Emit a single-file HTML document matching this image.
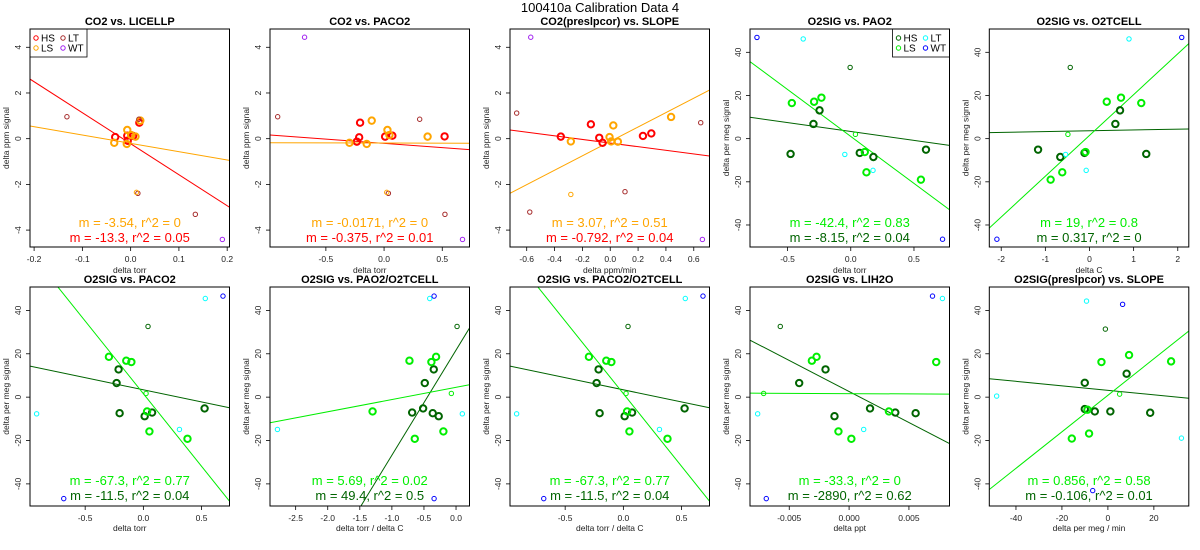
<!DOCTYPE html>
<html><head><meta charset="utf-8">
<style>
html,body{margin:0;padding:0;background:#fff;width:1200px;height:550px;overflow:hidden;}
svg{display:block;font-family:"Liberation Sans",Arial,sans-serif;}
</style></head>
<body>
<svg id="chart" width="1200" height="550" viewBox="0 0 1200 550" xmlns="http://www.w3.org/2000/svg">
<text x="600" y="12" text-anchor="middle" font-size="13">100410a   Calibration Data 4</text>
</svg>
<script>
// ---- data ----
const titles = ["CO2 vs. LICELLP","CO2 vs. PACO2","CO2(preslpcor) vs. SLOPE","O2SIG vs. PAO2","O2SIG vs. O2TCELL",
  "O2SIG vs. PACO2","O2SIG vs. PAO2/O2TCELL","O2SIG vs. PACO2/O2TCELL","O2SIG vs. LIH2O","O2SIG(preslpcor) vs. SLOPE"];
const xLabels = ["delta torr","delta torr","delta ppm/min","delta torr","delta C",
  "delta torr","delta torr / delta C","delta torr / delta C","delta ppt","delta per meg / min"];
const xLims = [[-0.2085,0.2048],[-0.98,0.734],[-0.72,0.713],[-0.797,0.781],[-2.27,2.25],
  [-0.974,0.74],[-2.90,0.21],[-0.974,0.74],[-0.00828,0.00839],[-51.6,35.2]];
const xTicks = [[-0.2,-0.1,0,0.1,0.2],[-0.5,0,0.5],[-0.6,-0.4,-0.2,0,0.2,0.4,0.6],[-0.5,0,0.5],[-2,-1,0,1,2],
  [-0.5,0,0.5],[-2.5,-2,-1.5,-1,-0.5,0],[-0.5,0,0.5],[-0.005,0,0.005],[-40,-20,0,20]];
const xTickLabels = [["-0.2","-0.1","0.0","0.1","0.2"],["-0.5","0.0","0.5"],["-0.6","-0.4","-0.2","0.0","0.2","0.4","0.6"],["-0.5","0.0","0.5"],["-2","-1","0","1","2"],
  ["-0.5","0.0","0.5"],["-2.5","-2.0","-1.5","-1.0","-0.5","0.0"],["-0.5","0.0","0.5"],["-0.005","0.000","0.005"],["-40","-20","0","20"]];
const co2YLim = [-4.74,4.8];
const o2YLim = [-50.2,50.8];
const co2YTicks = [-4,-2,0,2,4];
const o2YTicks = [-40,-20,0,20,40];

const p1Points = [[-0.032,0.07,'HS'],[-0.007,0.13,'HS'],[-0.006,-0.09,'HS'],[0.018,0.7,'HS'],[0.005,0.12,'HS'],
  [-0.034,-0.18,'LS'],[-0.007,0.38,'LS'],[-0.008,-0.23,'LS'],[0.001,0.16,'LS'],[0.01,0.09,'LS'],[0.02,0.79,'LS'],
  [-0.132,0.96,'LT'],[0.017,0.85,'LT'],[0.015,-2.39,'LT'],[0.134,-3.31,'LT'],[0.012,-2.35,'LSx'],[0.19,-4.41,'WT']];
const p2Points = [[-0.206,0.70,'HS'],[-0.214,0.06,'HS'],[-0.234,-0.13,'HS'],[0.009,0.09,'HS'],[0.071,0.13,'HS'],[0.52,0.10,'HS'],
  [-0.297,-0.18,'LS'],[-0.149,-0.23,'LS'],[-0.106,0.79,'LS'],[0.029,0.38,'LS'],[0.046,0.16,'LS'],[0.374,0.09,'LS'],
  [-0.914,0.96,'LT'],[0.306,0.85,'LT'],[0.037,-2.39,'LT'],[0.523,-3.31,'LT'],[0.023,-2.35,'LSx'],[-0.683,4.44,'WT'],[0.674,-4.41,'WT']];
const p3Points = [[-0.355,0.09,'HS'],[-0.139,0.63,'HS'],[-0.079,0.04,'HS'],[-0.055,-0.18,'HS'],[0.235,0.12,'HS'],[0.295,0.23,'HS'],
  [-0.283,-0.12,'LS'],[-0.005,0.07,'LS'],[0.007,-0.12,'LS'],[0.022,0.58,'LS'],[0.055,-0.13,'LS'],[0.437,0.95,'LS'],
  [-0.672,1.12,'LT'],[-0.578,-3.21,'LT'],[0.106,-2.32,'LT'],[0.65,0.70,'LT'],[-0.283,-2.44,'LSx'],[-0.571,4.44,'WT'],[0.662,-4.41,'WT']];
const p4Points = [[-0.476,-7.1,'HS'],[-0.295,6.8,'HS'],[-0.247,13.1,'HS'],[0.071,-6.6,'HS'],[0.179,-8.5,'HS'],[0.595,-5.1,'HS'],
  [-0.466,16.5,'LS'],[-0.29,17.1,'LS'],[-0.232,19.0,'LS'],[0.111,-6.2,'LS'],[0.124,-15.6,'LS'],[0.555,-19.0,'LS'],
  [-0.376,46.2,'LT'],[-0.047,-7.3,'LT'],[0.176,-14.7,'LT'],[-0.005,33.0,'HSx'],[0.037,2.0,'LSx'],[-0.742,46.9,'WT'],[0.726,-46.6,'WT']];
const p5Points = [[-1.165,-5.1,'HS'],[-0.662,-8.5,'HS'],[-0.113,-6.6,'HS'],[0.586,6.8,'HS'],[0.692,13.1,'HS'],[1.286,-7.1,'HS'],
  [-0.88,-19.0,'LS'],[-0.617,-15.6,'LS'],[-0.09,-6.2,'LS'],[0.391,17.1,'LS'],[0.714,19.0,'LS'],[1.173,16.5,'LS'],
  [0.895,46.2,'LT'],[-0.541,-7.3,'LT'],[-0.075,-14.7,'LT'],[-0.436,33.0,'HSx'],[-0.489,2.0,'LSx'],[-2.098,-46.6,'WT'],[2.09,46.9,'WT']];
const p6Points = [[-0.213,12.8,'HS'],[-0.23,6.5,'HS'],[-0.204,-7.4,'HS'],[0.011,-8.8,'HS'],[0.075,-7.1,'HS'],[0.526,-5.2,'HS'],
  [-0.296,18.6,'LS'],[-0.147,16.8,'LS'],[-0.103,16.2,'LS'],[0.032,-6.6,'LS'],[0.052,-15.8,'LS'],[0.379,-19.2,'LS'],
  [-0.917,-7.7,'LT'],[0.31,-14.9,'LT'],[0.532,45.5,'LT'],[0.04,32.6,'HSx'],[0.023,1.7,'LSx'],[0.684,46.6,'WT'],[-0.684,-46.8,'WT']];
const p7Points = [[-0.487,6.5,'HS'],[-0.347,12.8,'HS'],[-0.363,-7.4,'HS'],[-0.27,-8.8,'HS'],[-0.684,-7.1,'HS'],[-0.513,-5.2,'HS'],
  [-0.311,18.6,'LS'],[-0.726,16.8,'LS'],[-0.384,16.2,'LS'],[-1.301,-6.6,'LS'],[-0.197,-15.8,'LS'],[-0.643,-19.2,'LS'],
  [-2.784,-14.9,'LT'],[0.098,-7.7,'LT'],[-0.41,45.5,'LT'],[0.016,32.6,'HSx'],[-0.073,1.7,'LSx'],[-0.342,46.6,'WT'],[-0.342,-46.8,'WT']];
const p8Points = p6Points;
const p9Points = [[-0.00417,6.5,'HS'],[-0.00197,12.8,'HS'],[-0.00122,-8.8,'HS'],[0.00175,-5.2,'HS'],[0.00386,-7.1,'HS'],[0.00556,-7.4,'HS'],
  [-0.00311,16.8,'LS'],[-0.00272,18.6,'LS'],[-0.00089,-15.8,'LS'],[0.00019,-19.2,'LS'],[0.00333,-6.6,'LS'],[0.00728,16.2,'LS'],
  [-0.00764,-7.7,'LT'],[0.00122,-14.9,'LT'],[0.0078,45.5,'LT'],[-0.00575,32.6,'HSx'],[-0.00714,1.7,'LSx'],[0.00697,46.6,'WT'],[-0.00692,-46.8,'WT']];
const p10Points = [[-10.06,6.6,'HS'],[-10.06,-5.5,'HS'],[-5.7,-6.6,'HS'],[1.07,-6.6,'HS'],[8.15,10.8,'HS'],[18.4,-7.2,'HS'],
  [-15.7,-19.1,'LS'],[-8.2,-16.8,'LS'],[-8.9,-5.8,'LS'],[-2.8,16.2,'LS'],[9.2,19.4,'LS'],[27.5,16.5,'LS'],
  [-48.4,0.5,'LT'],[-9.3,44.3,'LT'],[32.0,-18.9,'LT'],[-1.1,31.4,'HSx'],[5.1,1.4,'LSx'],[6.4,42.8,'WT'],[-6.6,-43.1,'WT']];
const allPoints = [p1Points,p2Points,p3Points,p4Points,p5Points,p6Points,p7Points,p8Points,p9Points,p10Points];

// fit lines [slope, intercept] per panel
const hsFits = [[-13.56,-0.22],[-0.373,-0.206],[-0.795,-0.192],[-8.24,3.33],[0.376,3.65],
  [-11.2,3.39],[48.5,21.7],[-11.2,3.39],[-2862,2.59],[-0.1037,3.15]];
const lsFits = [[-3.64,-0.204],[-0.015,-0.19],[3.154,-0.12],[-43.5,1.03],[18.9,1.5],
  [-67,1.6],[5.63,4.52],[-67,1.6],[-27,1.63],[0.842,0.85]];
const lsLabels = ["m = -3.54, r^2 = 0","m = -0.0171, r^2 = 0","m = 3.07, r^2 = 0.51","m = -42.4, r^2 = 0.83","m = 19, r^2 = 0.8",
  "m = -67.3, r^2 = 0.77","m = 5.69, r^2 = 0.02","m = -67.3, r^2 = 0.77","m = -33.3, r^2 = 0","m = 0.856, r^2 = 0.58"];
const hsLabels = ["m = -13.3, r^2 = 0.05","m = -0.375, r^2 = 0.01","m = -0.792, r^2 = 0.04","m = -8.15, r^2 = 0.04","m = 0.317, r^2 = 0",
  "m = -11.5, r^2 = 0.04","m = 49.4, r^2 = 0.5","m = -11.5, r^2 = 0.04","m = -2890, r^2 = 0.62","m = -0.106, r^2 = 0.01"];

// ---- rendering ----
const NS = "http://www.w3.org/2000/svg";
const svg = document.getElementById('chart');
const co2Colors = {HS:'#ff0000',LS:'#ffa500',LT:'#a52a2a',WT:'#a020f0'};
const o2Colors = {HS:'#006400',LS:'#00ee00',LT:'#00ffff',WT:'#0000ff'};
function mk(tag, attrs, parent){const e=document.createElementNS(NS,tag);for(const k in attrs)e.setAttribute(k,attrs[k]);(parent||svg).appendChild(e);return e;}

for(let i=0;i<10;i++){
  const col=i%5,row=Math.floor(i/5);
  const L=30+240*col-(col===4?0.7:0), R=L+199.5, T=row?287:29, B=row?506:247;
  const isCO2 = i<3;
  const cols = isCO2?co2Colors:o2Colors;
  const yl = isCO2?co2YLim:o2YLim, yt = isCO2?co2YTicks:o2YTicks;
  const xl = xLims[i];
  const sx = v => L+(v-xl[0])/(xl[1]-xl[0])*(R-L);
  const sy = v => B-(v-yl[0])/(yl[1]-yl[0])*(B-T);
  const g = mk('g',{});
  
  
  const clipId='clip'+i;
  const cp=mk('clipPath',{id:clipId},g); mk('rect',{x:L,y:T,width:R-L,height:B-T},cp);
  const t=mk('text',{x:(L+R)/2,y:T-4,'text-anchor':'middle','font-size':'11','font-weight':'bold'},g);
  t.textContent=titles[i];
  
  
  xTicks[i].forEach((v,k)=>{
    const x=sx(v);
    mk('line',{x1:x,x2:x,y1:B,y2:B+4,stroke:'#000','stroke-width':'0.8'},g);
    const tl=mk('text',{x:x,y:B+15,'text-anchor':'middle','font-size':'8.5',fill:'#222'},g);
    tl.textContent=xTickLabels[i][k];
    
    
  });
  mk('line',{x1:sx(xTicks[i][0]),x2:sx(xTicks[i][xTicks[i].length-1]),y1:B,y2:B,stroke:'#000','stroke-width':'0.8'},g);
  const xlab=mk('text',{x:(L+R)/2,y:B+(row?25:26),'text-anchor':'middle','font-size':'8.5',fill:'#222'},g);
  xlab.textContent=xLabels[i];
  
  
  yt.forEach(v=>{
    const y=sy(v);
    mk('line',{x1:L-4,x2:L,y1:y,y2:y,stroke:'#000','stroke-width':'0.8'},g);
    const tl=mk('text',{x:L-9,y:y,'text-anchor':'middle','font-size':'8.5',fill:'#222',transform:`rotate(-90 ${L-9} ${y})`},g);
    tl.textContent=String(v);
    
    
  });
  const ylab=mk('text',{x:L-21,y:(T+B)/2,'text-anchor':'middle','font-size':'8.5',fill:'#222',transform:`rotate(-90 ${L-21} ${(T+B)/2})`},g);
  ylab.textContent=isCO2?'delta ppm signal':'delta per meg signal';
  
  
  const inner=mk('g',{'clip-path':`url(#${clipId})`},g);
  [[hsFits[i],cols.HS,'hs-fit-line'],[lsFits[i],cols.LS,'ls-fit-line']].forEach(([f,c,n])=>{
    const ln=mk('line',{x1:sx(xl[0]),y1:sy(f[0]*xl[0]+f[1]),x2:sx(xl[1]),y2:sy(f[0]*xl[1]+f[1]),stroke:c,'stroke-width':'1'},inner);
    
    
  });
  allPoints[i].forEach(p=>{
    const grp=p[2].replace('x',''); const thick=(p[2]==='HS'||p[2]==='LS');
    const c=mk('circle',{cx:sx(p[0]),cy:sy(p[1]),r:thick?3.2:2.2,fill:'none',stroke:cols[grp],'stroke-width':thick?2:1},inner);
    
    
  });
  const a1=mk('text',{x:(L+R)/2,y:B-(row?21:20),'text-anchor':'middle','font-size':'13',fill:cols.LS},g);
  a1.textContent=lsLabels[i];
  
  
  const a2=mk('text',{x:(L+R)/2,y:B-(row?6:5),'text-anchor':'middle','font-size':'13',fill:cols.HS},g);
  a2.textContent=hsLabels[i];
  
  
  if(i===0||i===3){
    const lx = i===0?L:R-57, ly=T;
    const lg=mk('g',{},g);
    
    
    mk('rect',{x:lx,y:ly,width:57,height:28,fill:'#fff',stroke:'#000','stroke-width':'0.8'},lg);
    [['HS',0,0],['LS',0,1],['LT',1,0],['WT',1,1]].forEach(([n,cx,cy])=>{
      const ex=lx+6+cx*27, ey=ly+9+cy*10;
      mk('circle',{cx:ex,cy:ey,r:2.2,fill:'none',stroke:cols[n],'stroke-width':1},lg);
      const tx=mk('text',{x:ex+5,y:ey+3.5,'font-size':'10'},lg);
      tx.textContent=n;
      
      
    });
  }
  mk('rect',{x:L,y:T,width:R-L,height:B-T,fill:'none',stroke:'#000','stroke-width':'1'},g);
}
</script>
</body></html>
